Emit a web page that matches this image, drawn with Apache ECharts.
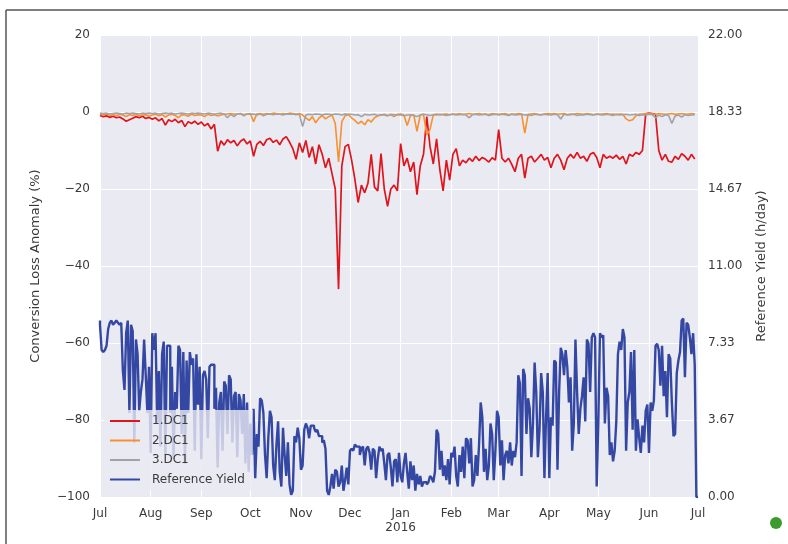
<!DOCTYPE html>
<html>
<head>
<meta charset="utf-8">
<script src="https://cdn.jsdelivr.net/npm/echarts@6/dist/echarts.min.js"></script>
<style>
  html, body { margin: 0; padding: 0; background: #ffffff; }
  #chart { width: 788px; height: 544px; }
</style>
</head>
<body>
<div id="chart"></div>
<script>
// ---- data, starting 2015-07-01 ----
const startDate = [2015, 6, 1];
const anomalyStepDays = 2;   // DC1 series: one value every 2 days
const yieldStepDays = 1;     // reference yield: one value per day
const monthTickLabels = ['Jul', 'Aug', 'Sep', 'Oct', 'Nov', 'Dec', 'Jan\n2016', 'Feb', 'Mar', 'Apr', 'May', 'Jun', 'Jul'];

const dc1 = [ // 1.DC1 (%)
  -0.9,-1.2,-1.0,-1.4,-1.1,-1.5,-1.3,-1.8,-2.4,-2.0,-1.6,-1.2,-1.5,-1.1,-1.7,-1.4,
  -1.9,-1.5,-2.3,-1.7,-3.4,-2.0,-2.5,-1.9,-2.8,-2.2,-3.8,-2.5,-3.0,-2.4,-3.2,
  -2.6,-3.6,-3.0,-4.4,-3.2,-10.2,-7.5,-8.6,-7.2,-8.0,-7.4,-8.8,-7.6,-7.0,-8.3,
  -7.5,-11.5,-8.4,-7.6,-8.7,-7.2,-6.8,-7.9,-7.3,-8.5,-7.0,-6.4,-7.8,-9.5,-12.3,-8.0,
  -10.5,-7.4,-11.8,-9.0,-13.5,-8.5,-11.0,-14.5,-12.0,-16.0,-20.0,-46.0,-14.0,-9.0,-8.4,
  -12.5,-17.5,-23.5,-19.0,-21.0,-18.5,-11.0,-19.5,-20.5,-10.8,-20.0,-24.5,-20.0,-19.0,-20.5,
  -8.2,-14.0,-12.0,-15.5,-13.0,-21.5,-14.0,-11.0,-1.2,-9.0,-13.5,-7.0,-15.0,-20.5,-12.5,-17.7,
  -11.0,-9.5,-14.0,-12.5,-13.2,-12.0,-12.8,-11.5,-12.6,-11.8,-12.3,-13.0,-11.9,-12.5,
  -4.6,-12.0,-13.0,-12.0,-13.6,-15.5,-12.0,-11.0,-17.2,-12.0,-11.5,-13.0,-12.0,-11.0,-12.5,-11.8,
  -14.5,-12.0,-11.0,-12.5,-15.0,-12.0,-11.0,-12.0,-10.5,-12.0,-11.5,-12.8,-11.0,-10.5,-11.8,
  -14.5,-11.0,-12.0,-11.5,-12.0,-11.2,-12.3,-11.5,-13.5,-11.0,-11.5,-10.5,-11.0,-10.0,-0.5,
  -0.3,-0.4,-0.6,-10.0,-12.5,-11.0,-12.8,-13.0,-11.5,-12.3,-10.8,-11.5,-12.5,-11.0,-12.2
];

const dc2 = [ // 2.DC1 (%)
  -0.6,-0.8,-0.5,-0.9,-0.7,-1.0,-0.6,-0.8,-1.2,-0.7,-0.9,-0.6,-1.0,-0.8,-0.7,-1.1,
  -0.8,-0.6,-1.0,-0.7,-1.3,-0.8,-0.6,-0.9,-1.5,-0.7,-0.8,-1.1,-0.6,-0.9,-0.7,
  -0.8,-1.2,-0.6,-0.9,-0.7,-1.0,-0.8,-0.6,-0.5,-0.4,-0.6,-0.5,-0.4,-0.7,-0.5,
  -0.4,-2.5,-0.5,-0.4,-0.6,-0.4,-0.5,-0.3,-0.4,-0.6,-0.4,-0.5,-0.3,-0.4,-0.5,-0.4,
  -0.8,-1.5,-2.2,-1.2,-2.8,-1.6,-0.9,-1.8,-1.2,-0.8,-3.0,-13.0,-2.5,-1.0,-0.7,
  -1.5,-2.2,-3.0,-2.4,-3.3,-2.0,-2.6,-1.5,-1.0,-0.8,-0.6,-0.9,-0.7,-1.2,-0.6,
  -0.5,-0.8,-3.5,-1.0,-0.7,-5.0,-0.8,-0.6,-6.0,-4.5,-0.7,-0.5,-0.8,-0.6,-0.5,-0.7,
  -0.5,-0.6,-0.4,-0.7,-0.5,-0.4,-0.6,-0.5,-0.4,-0.6,-0.5,-0.7,-0.4,-0.5,
  -0.6,-0.5,-0.4,-0.7,-0.5,-0.6,-0.4,-0.5,-5.5,-0.6,-0.5,-0.4,-0.6,-0.7,-0.5,-0.4,
  -0.5,-0.4,-0.6,-0.5,-0.4,-0.7,-0.5,-0.6,-0.4,-0.5,-0.6,-0.4,-0.5,-0.7,-0.5,
  -0.6,-0.5,-0.4,-0.6,-0.5,-0.7,-0.5,-0.6,-1.8,-2.3,-2.0,-1.0,-0.6,-0.5,-0.4,
  -0.4,-0.5,-0.6,-0.4,-0.5,-0.6,-0.5,-0.4,-0.6,-0.5,-0.4,-0.5,-0.6,-0.4,-0.5
];

const dc3 = [ // 3.DC1 (%)
  -0.3,-0.4,-0.3,-0.5,-0.4,-0.3,-0.4,-0.5,-0.3,-0.4,-0.3,-0.4,-0.5,-0.3,-0.4,-0.3,
  -0.4,-0.3,-0.5,-0.4,-0.3,-0.4,-0.3,-0.5,-0.4,-0.3,-0.4,-0.5,-0.3,-0.4,-0.3,
  -0.4,-0.5,-0.3,-0.4,-0.6,-0.4,-0.3,-0.5,-1.5,-0.6,-1.2,-0.5,-0.4,-1.0,-0.5,
  -0.6,-0.5,-0.8,-0.5,-1.0,-0.6,-0.5,-0.7,-0.5,-0.6,-0.8,-0.5,-0.6,-0.5,-0.7,-0.6,
  -3.8,-0.8,-0.6,-0.7,-0.5,-0.6,-0.8,-0.5,-0.6,-0.7,-0.5,-0.6,-0.8,-0.5,-0.6,
  -0.6,-0.8,-0.7,-1.2,-0.6,-0.8,-0.7,-0.6,-0.9,-0.7,-0.8,-1.0,-0.6,-0.7,-0.8,
  -0.7,-1.0,-0.8,-0.7,-0.9,-1.2,-0.8,-0.6,-0.7,-0.9,-0.7,-0.8,-0.6,-0.7,-0.9,-0.7,
  -0.6,-0.8,-0.7,-0.6,-0.8,-1.5,-0.7,-0.6,-0.8,-0.7,-0.6,-0.9,-0.7,-0.6,
  -0.8,-0.6,-0.7,-0.9,-0.6,-0.8,-0.7,-0.6,-0.8,-0.7,-0.9,-0.6,-0.7,-0.8,-0.6,-0.7,
  -0.8,-0.6,-0.7,-1.8,-0.6,-0.8,-0.7,-0.6,-0.9,-0.7,-0.8,-0.6,-0.7,-0.8,-0.6,
  -0.7,-0.8,-0.6,-0.7,-0.9,-0.6,-0.8,-0.7,-0.6,-0.8,-0.7,-0.6,-0.9,-0.7,-0.8,
  -0.6,-0.7,-1.5,-0.8,-1.2,-0.7,-0.9,-3.0,-1.0,-0.8,-1.3,-0.7,-0.9,-0.8,-0.7
];

const refYield = [ // Reference Yield (h/day), daily
  // Jul
  8.4,8.2,7.0,6.9,7.0,7.2,8.0,8.3,8.4,8.2,8.3,8.4,8.3,8.2,8.3,6.0,5.1,7.8,8.4,4.0,8.2,7.9,2.6,7.5,6.8,4.1,5.0,5.6,7.5,5.8,4.0,
  // Aug
  6.2,2.1,7.8,7.0,7.8,3.5,6.0,2.4,6.8,7.4,2.0,7.2,7.2,4.0,6.2,1.8,5.0,4.2,7.2,7.0,3.0,6.9,1.6,6.5,4.0,6.9,6.3,6.6,2.2,6.8,4.4,
  // Sep
  6.2,1.8,5.8,6.0,5.6,2.8,6.2,6.3,6.3,4.2,5.2,1.4,4.5,5.0,2.2,5.5,5.3,3.0,5.8,5.6,2.6,4.8,5.0,1.9,4.9,4.6,3.0,4.9,1.6,4.5,
  // Oct
  1.2,3.5,2.0,4.2,0.9,3.0,2.4,4.7,4.6,4.0,2.0,0.9,2.8,4.1,3.8,1.5,0.8,2.5,3.6,1.2,0.5,3.3,2.0,1.0,2.6,0.6,0.1,0.3,2.9,2.6,3.3,
  // Nov
  2.8,1.3,1.5,3.2,3.5,3.3,2.8,3.4,3.4,3.3,3.1,3.2,2.9,2.9,2.6,2.7,2.3,0.3,0.1,0.5,1.1,0.4,1.3,1.2,0.5,0.7,1.5,0.3,0.8,1.4,
  // Dec
  0.6,2.2,2.3,2.2,2.5,2.4,2.4,2.0,2.3,2.4,1.5,2.3,2.4,2.1,1.3,2.3,2.2,0.9,1.8,2.4,2.2,2.3,1.6,0.8,2.0,2.1,1.4,0.5,1.7,1.8,0.7,
  // Jan
  2.1,1.0,0.7,1.6,2.1,1.2,0.4,1.7,0.8,1.5,0.3,1.1,0.6,1.0,0.5,0.7,0.7,0.6,0.7,1.0,0.9,0.7,1.2,3.2,3.0,1.3,2.2,1.0,1.5,0.8,1.8,
  // Feb
  0.6,2.1,1.9,2.4,1.0,0.5,2.0,1.2,2.4,0.9,2.8,2.7,1.6,2.8,0.5,0.8,2.0,1.0,2.5,4.5,3.8,1.2,2.3,0.8,1.5,3.5,3.0,0.8,2.2,
  // Mar
  4.1,3.8,1.5,2.7,0.8,2.0,2.2,1.6,2.6,1.5,2.2,1.9,2.6,5.8,5.4,1.0,6.1,5.8,3.0,4.7,4.2,1.9,3.5,6.4,5.0,1.9,3.2,5.9,5.0,0.9,3.8,
  // Apr
  5.9,0.9,3.8,3.4,6.5,6.4,1.3,5.0,7.1,6.8,5.8,7.0,6.2,4.5,5.7,2.2,3.5,7.5,5.0,3.0,4.2,4.8,5.7,3.6,7.5,7.3,5.0,7.6,7.8,7.6,
  // May
  0.5,3.6,7.8,7.6,7.7,3.5,5.2,4.8,2.0,2.6,1.7,2.2,3.6,6.8,7.4,7.0,8.0,7.6,2.2,4.5,5.0,6.9,3.2,7.0,2.2,3.7,2.8,2.1,3.4,2.6,4.1,
  // Jun
  4.4,2.1,4.5,4.1,4.6,7.2,7.3,7.0,5.3,7.2,4.8,6.0,3.8,6.8,6.6,4.5,2.9,3.0,5.9,6.5,6.9,8.4,8.5,5.7,8.3,8.2,7.6,6.8,7.8,6.3,
  // Jul 1
  0.0
];

// ---- helpers: x is "days since 2015-07-01" ----
const DAY_MS = 86400000;
const t0 = Date.UTC(startDate[0], startDate[1], startDate[2]);
function dayOf(y, m, d) { return Math.round((Date.UTC(y, m, d) - t0) / DAY_MS); }
function toPairs(vals, step) { return vals.map((v, i) => [i * step, v]); }
const monthTicks = monthTickLabels.map((_, k) => dayOf(startDate[0], startDate[1] + k, 1));
const xMin = monthTicks[0], xMax = monthTicks[monthTicks.length - 1];

const chart = echarts.init(document.getElementById('chart'), null, { renderer: 'canvas' });
const textColor = '#3a3a3a';
const fontFamily = 'DejaVu Sans';
const lineIcon = 'path://M0,0 L30,0 L30,2 L0,2 Z';

chart.setOption({
  backgroundColor: '#ffffff',
  animation: false,
  textStyle: { fontFamily: fontFamily },
  graphic: [
    { type: 'line', shape: { x1: 6, y1: 10, x2: 6, y2: 544 }, style: { stroke: '#555', lineWidth: 1.5 }, z: 100 },
    { type: 'line', shape: { x1: 6, y1: 10, x2: 788, y2: 10 }, style: { stroke: '#555', lineWidth: 1.5 }, z: 100 },
    { type: 'circle', shape: { cx: 776, cy: 523, r: 6 }, style: { fill: '#3c9a2e' }, z: 100 }
  ],
  grid: {
    left: 100, right: 90, top: 35, bottom: 47,
    show: true, backgroundColor: '#eaeaf2', borderWidth: 0
  },
  legend: {
    orient: 'vertical',
    left: 104, top: 410,
    icon: lineIcon,
    itemWidth: 30, itemHeight: 2.5, itemGap: 7.5,
    padding: [5, 8, 5, 6],
    backgroundColor: 'rgba(234,234,242,0.8)',
    textStyle: { color: textColor, fontSize: 12, fontFamily: fontFamily, padding: [0, 0, 0, 7] },
    data: ['1.DC1', '2.DC1', '3.DC1', 'Reference Yield']
  },
  xAxis: {
    type: 'value',
    min: xMin, max: xMax,
    axisLine: { show: false },
    axisTick: { show: false, customValues: monthTicks },
    splitLine: { show: true, lineStyle: { color: '#ffffff', width: 1 } },
    axisLabel: {
      customValues: monthTicks,
      color: textColor, fontSize: 12, lineHeight: 14, fontFamily: fontFamily, margin: 10,
      showMinLabel: true, showMaxLabel: true,
      formatter: function (v) {
        const i = monthTicks.indexOf(Math.round(v));
        return i >= 0 ? monthTickLabels[i] : '';
      }
    }
  },
  yAxis: [
    {
      type: 'value', min: -100, max: 20, interval: 20,
      name: 'Conversion Loss Anomaly (%)', nameLocation: 'middle', nameGap: 58, nameRotate: 90,
      nameTextStyle: { color: textColor, fontSize: 13, fontFamily: fontFamily },
      axisLine: { show: false }, axisTick: { show: false },
      splitLine: { show: true, lineStyle: { color: '#ffffff', width: 1 } },
      axisLabel: {
        color: textColor, fontSize: 12, fontFamily: fontFamily, margin: 10,
        formatter: v => String(v).replace('-', '\u2212')
      }
    },
    {
      type: 'value', min: 0, max: 22, interval: 22 / 6, position: 'right',
      name: 'Reference Yield (h/day)', nameLocation: 'middle', nameGap: 57, nameRotate: 90,
      nameTextStyle: { color: textColor, fontSize: 13, fontFamily: fontFamily },
      axisLine: { show: false }, axisTick: { show: false },
      splitLine: { show: false },
      axisLabel: {
        color: textColor, fontSize: 12, fontFamily: fontFamily, margin: 10,
        formatter: v => v.toFixed(2)
      }
    }
  ],
  series: [
    { name: '1.DC1', type: 'line', yAxisIndex: 0, data: toPairs(dc1, anomalyStepDays), symbol: 'none',
      lineStyle: { color: '#e0141c', width: 1.7 }, itemStyle: { color: '#e0141c' } },
    { name: '2.DC1', type: 'line', yAxisIndex: 0, data: toPairs(dc2, anomalyStepDays), symbol: 'none',
      lineStyle: { color: '#f7912f', width: 1.6 }, itemStyle: { color: '#f7912f' } },
    { name: '3.DC1', type: 'line', yAxisIndex: 0, data: toPairs(dc3, anomalyStepDays), symbol: 'none',
      lineStyle: { color: '#a3a1a6', width: 1.6 }, itemStyle: { color: '#a3a1a6' } },
    { name: 'Reference Yield', type: 'line', yAxisIndex: 1, data: toPairs(refYield, yieldStepDays), symbol: 'none',
      step: 'start',
      lineStyle: { color: '#3448a3', width: 2.4 }, itemStyle: { color: '#3448a3' } }
  ]
});
</script>
</body>
</html>
